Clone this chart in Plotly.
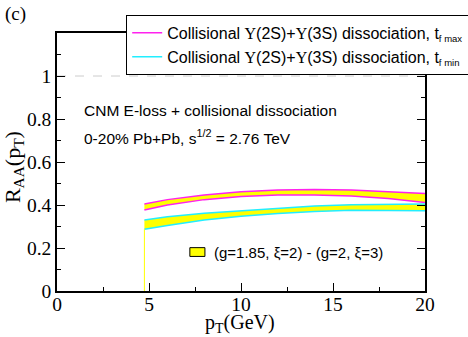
import plotly.graph_objects as go

# =========================
# DATOS
# =========================
pt = [4.75, 6, 8, 10, 12, 14, 16, 18, 20]

# t_f max (magenta)
tmax_alto = [0.405, 0.425, 0.447, 0.462, 0.470, 0.472, 0.470, 0.463, 0.453]
tmax_bajo = [0.377, 0.400, 0.425, 0.440, 0.447, 0.447, 0.442, 0.430, 0.412]

# t_f min (cian)
tmin_alto = [0.330, 0.345, 0.362, 0.373, 0.385, 0.395, 0.401, 0.404, 0.405]
tmin_bajo = [0.287, 0.305, 0.330, 0.348, 0.360, 0.370, 0.376, 0.376, 0.373]

UPS = "<span style='font-family:Liberation Serif, Times New Roman, serif'>Υ</span>"
SUB = "<sub><span style='font-size:9.5px'>{}</span></sub>"
TXT_MAX = f"Collisional {UPS}(2S)+{UPS}(3S) dissociation, t" + SUB.format("f max")
TXT_MIN = f"Collisional {UPS}(2S)+{UPS}(3S) dissociation, t" + SUB.format("f min")
TXT_BANDA = "(g=1.85, ξ=2) - (g=2, ξ=3)"

AMARILLO = "#ffff00"
MAGENTA = "#ff22ee"
CIAN = "#22eeff"
SERIF = "Liberation Serif, Times New Roman, serif"
SANS = "Liberation Sans, Arial, sans-serif"

fig = go.Figure()


def banda(bajo, alto, color, nombre):
    # relleno amarillo entre las dos curvas
    fig.add_trace(go.Scatter(x=pt, y=bajo, mode="lines", line=dict(width=0),
                             showlegend=False, hoverinfo="skip"))
    fig.add_trace(go.Scatter(x=pt, y=alto, mode="lines", line=dict(width=0),
                             fill="tonexty", fillcolor=AMARILLO,
                             showlegend=False, hoverinfo="skip"))
    # bordes de la banda
    fig.add_trace(go.Scatter(x=pt, y=alto, mode="lines",
                             line=dict(color=color, width=1.5),
                             name=nombre, legendgroup=nombre))
    fig.add_trace(go.Scatter(x=pt, y=bajo, mode="lines",
                             line=dict(color=color, width=1.5),
                             name=nombre, legendgroup=nombre, showlegend=False))


banda(tmax_bajo, tmax_alto, MAGENTA, TXT_MAX)
banda(tmin_bajo, tmin_alto, CIAN, TXT_MIN)

# linea vertical amarilla en el inicio de la banda
fig.add_trace(go.Scatter(x=[pt[0], pt[0]], y=[0, tmin_bajo[0]], mode="lines",
                         line=dict(color=AMARILLO, width=1), showlegend=False))

# linea de referencia en 1
fig.add_shape(type="line", x0=0, x1=20, y0=1, y1=1, xref="x", yref="y",
              line=dict(color="#cccccc", width=1, dash="dash"), layer="below")

# leyenda de la banda (caja amarilla + texto)
fig.add_shape(type="rect", x0=0.361, x1=0.402, y0=0.134, y1=0.168,
              xref="paper", yref="paper",
              fillcolor=AMARILLO, line=dict(color="black", width=1))
fig.add_annotation(x=0.42, y=0.151, xref="paper", yref="paper", xanchor="left",
                   yanchor="middle", showarrow=False, text=TXT_BANDA,
                   font=dict(family=SANS, size=15, color="black"))

fig.add_annotation(x=0.068, y=0.70, xref="paper", yref="paper", xanchor="left",
                   yanchor="middle", showarrow=False,
                   text="CNM E-loss + collisional dissociation",
                   font=dict(family=SANS, size=15.5, color="black"))
fig.add_annotation(x=0.068, y=0.597, xref="paper", yref="paper", xanchor="left",
                   yanchor="middle", showarrow=False,
                   text="0-20% Pb+Pb, s<sup>1/2</sup> = 2.76 TeV",
                   font=dict(family=SANS, size=15.5, color="black"))
fig.add_annotation(x=-0.148, y=1.125, xref="paper", yref="paper", xanchor="left",
                   yanchor="top", showarrow=False, text="(c)",
                   font=dict(family=SERIF, size=19, color="black"))

# titulos de los ejes
fig.add_annotation(x=0.497, y=-0.068, xref="paper", yref="paper",
                   xanchor="center", yanchor="top", showarrow=False,
                   text="p<sub>T</sub>(GeV)",
                   font=dict(family=SERIF, size=20, color="black"))
fig.add_annotation(x=-0.117, y=0.48, xref="paper", yref="paper",
                   xanchor="center", yanchor="middle", showarrow=False,
                   textangle=-90, text="R<sub>AA</sub>(p<sub>T</sub>)",
                   font=dict(family=SERIF, size=22, color="black"))

eje = dict(showline=True, linecolor="black", linewidth=1.5, ticks="inside",
           tickcolor="black", tickwidth=1, showgrid=False, zeroline=False,
           tickfont=dict(family=SERIF, size=19.5, color="black"))

fig.update_xaxes(**eje, range=[0, 20], tickvals=[0, 5, 10, 15, 20],
                 ticklen=8, mirror=True, ticklabelstandoff=-5,
                 minor=dict(tickvals=[2.5, 7.5, 12.5, 17.5], ticklen=4,
                            ticks="inside", tickcolor="black"))
fig.update_yaxes(**eje, range=[0, 1.2], tickvals=[0, 0.2, 0.4, 0.6, 0.8, 1],
                 ticktext=["0", "0.2", "0.4", "0.6", "0.8", "1"],
                 ticklen=8, mirror="ticks",
                 minor=dict(tickvals=[0.1, 0.3, 0.5, 0.7, 0.9, 1.1], ticklen=4,
                            ticks="inside", tickcolor="black"))

fig.update_layout(
    width=468, height=337,
    margin=dict(l=57, r=43, t=33, b=46, autoexpand=False),
    paper_bgcolor="white", plot_bgcolor="white",
    legend=dict(x=0.188, y=1.07, xanchor="left", yanchor="top",
                bgcolor="white", bordercolor="black", borderwidth=1,
                font=dict(family=SANS, size=16, color="black"),
                tracegroupgap=0, itemwidth=30),
)

# quitar el margen de 8 px que pone el navegador al body
fig.write_html("out.html", config={"displayModeBar": False},
               post_script="document.body.style.margin='0';")
